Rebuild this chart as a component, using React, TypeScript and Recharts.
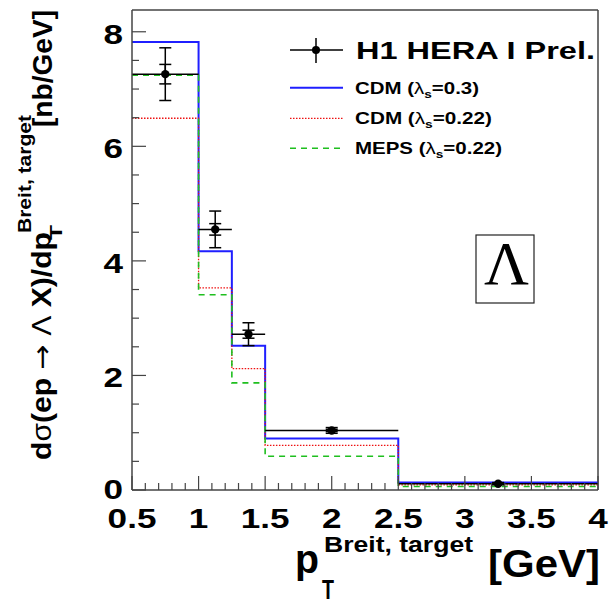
import { ComposedChart, Line, Scatter, ErrorBar, XAxis, YAxis, ReferenceLine } from "recharts"

// bin edges in p_T (GeV)
const binEdges = [0.5, 1, 1.25, 1.5, 2.5, 4]

// model predictions per bin (nb/GeV)
const cdm030 = [7.82, 4.17, 2.52, 0.9, 0.13]
const cdm022 = [6.49, 3.53, 2.12, 0.78, 0.09]
const meps022 = [7.24, 3.41, 1.87, 0.59, 0.06]

// H1 data
const dataX = [0.75, 1.125, 1.375, 2.0, 3.25]
const dataY = [7.26, 4.55, 2.72, 1.04, 0.11]
const dataErrTot = [0.46, 0.32, 0.2, 0.05, 0.02]
const dataErrStat = [0.17, 0.1, 0.07, 0.02, 0.01]

const xMajorTicks = [0.5, 1, 1.5, 2, 2.5, 3, 3.5, 4]
const yMajorTicks = [0, 2, 4, 6, 8]
const yMax = 8.38

const font = "'Liberation Sans', Arial, Helvetica, sans-serif"
const axisColor = "#444"
const blue = "#1f1fff"
const red = "#ee1111"
const green = "#1fbf1f"

const subdivide = (majors: number[], n: number) => {
  const out: number[] = []
  majors.forEach((a, i) => {
    out.push(a)
    const b = majors[i + 1]
    if (b === undefined) return
    for (let j = 1; j < n; j++) out.push(a + ((b - a) * j) / n)
  })
  return out
}

const xTicks = subdivide(xMajorTicks, 5)
const yTicks = subdivide(yMajorTicks, 4)

// histogram rows: one point per left edge, last bin repeated at the right edge
const histRows = binEdges.map((x, i) => {
  const k = Math.min(i, cdm030.length - 1)
  return { x, cdm030: cdm030[k], cdm022: cdm022[k], meps022: meps022[k] }
})

const points = dataX.map((x, i) => ({
  x,
  y: dataY[i],
  ex: (binEdges[i + 1] - binEdges[i]) / 2,
  ey: dataErrTot[i],
  eyStat: dataErrStat[i],
}))

function XTick({ x, y, payload }: any) {
  const v = payload.value
  const major = xMajorTicks.some((m) => Math.abs(m - v) < 1e-6)
  return (
    <g>
      <line x1={x} x2={x} y1={y} y2={y - (major ? 14 : 7)} stroke={axisColor} strokeWidth={1.2} />
      {major && (
        <text
          x={0}
          y={0}
          transform={`translate(${x} ${y + 38}) scale(1.3 1)`}
          textAnchor="middle"
          fontFamily={font}
          fontWeight="bold"
          fontSize={27}
          fill="#000"
        >
          {String(v)}
        </text>
      )}
    </g>
  )
}

function YTick({ x, y, payload }: any) {
  const v = payload.value
  const major = yMajorTicks.some((m) => Math.abs(m - v) < 1e-6)
  // the zero label sits a little higher so it clears the x labels
  const dy = v === 0 ? 9 : 12
  return (
    <g>
      <line x1={x} x2={x + (major ? 14 : 7)} y1={y} y2={y} stroke={axisColor} strokeWidth={1.2} />
      {major && (
        <text
          x={0}
          y={0}
          transform={`translate(${x - 9} ${y + dy}) scale(1.3 1)`}
          textAnchor="end"
          fontFamily={font}
          fontWeight="bold"
          fontSize={27}
          fill="#000"
        >
          {String(v)}
        </text>
      )}
    </g>
  )
}

function Dot(props: any) {
  return <circle cx={props.cx} cy={props.cy} r={4.2} fill="#000" />
}

function Overlay() {
  const legendX0 = 290
  const legendX1 = 343
  return (
    <svg width={616} height={606} style={{ position: "absolute", left: 0, top: 0, pointerEvents: "none" }}>
      {/* legend */}
      <g fontFamily={font} fontWeight="bold" fill="#000">
        <line x1={legendX0} x2={legendX1} y1={50} y2={50} stroke="#000" strokeWidth={1.5} />
        <line x1={316} x2={316} y1={38} y2={63} stroke="#000" strokeWidth={1.5} />
        <circle cx={316} cy={50} r={4} fill="#000" />
        <text x={356} y={59.3} fontSize={24.5} textLength={239} lengthAdjust="spacingAndGlyphs">
          H1 HERA I Prel.
        </text>

        <line x1={legendX0} x2={legendX1} y1={87.7} y2={87.7} stroke={blue} strokeWidth={2} />
        <text x={355} y={94} fontSize={16.5} textLength={124} lengthAdjust="spacingAndGlyphs">
          CDM (<tspan fontWeight="normal">λ</tspan>
          <tspan fontSize={11} dy={4}>s</tspan>
          <tspan dy={-4}>=0.3)</tspan>
        </text>

        <line x1={legendX0} x2={legendX1} y1={118.3} y2={118.3} stroke={red} strokeWidth={1.3} strokeDasharray="1.5 1.5" />
        <text x={355} y={124} fontSize={16.5} textLength={137} lengthAdjust="spacingAndGlyphs">
          CDM (<tspan fontWeight="normal">λ</tspan>
          <tspan fontSize={11} dy={4}>s</tspan>
          <tspan dy={-4}>=0.22)</tspan>
        </text>

        <line x1={legendX0} x2={legendX1} y1={148.3} y2={148.3} stroke={green} strokeWidth={1.6} strokeDasharray="6 5" />
        <text x={355} y={154} fontSize={16.5} textLength={147} lengthAdjust="spacingAndGlyphs">
          MEPS (<tspan fontWeight="normal">λ</tspan>
          <tspan fontSize={11} dy={4}>s</tspan>
          <tspan dy={-4}>=0.22)</tspan>
        </text>
      </g>

      {/* particle label */}
      <rect x={476} y={235} width={58} height={68} fill="#fff" stroke="#222" strokeWidth={1.2} />
      <text x={506.5} y={284} textAnchor="middle" fontFamily="'Liberation Serif', 'Times New Roman', serif" fontSize={62} fill="#000">
        Λ
      </text>

      {/* x title */}
      <g fontFamily={font} fontWeight="bold" fill="#000">
        <text x={295} y={573} fontSize={40} textLength={24} lengthAdjust="spacingAndGlyphs">p</text>
        <text x={324} y={551.7} fontSize={22} textLength={149} lengthAdjust="spacingAndGlyphs">Breit, target</text>
        <text x={322} y={599} fontSize={28} textLength={12} lengthAdjust="spacingAndGlyphs">T</text>
        <text x={488} y={576.7} fontSize={38} textLength={112} lengthAdjust="spacingAndGlyphs">[GeV]</text>
      </g>

      {/* y title, reads bottom to top */}
      <g transform="rotate(-90)" fontFamily={font} fontWeight="bold" fill="#000">
        <text x={-460} y={51} fontSize={27} textLength={228} lengthAdjust="spacingAndGlyphs">
          d<tspan fontWeight="normal">σ</tspan>(ep{" "}
          <tspan fontWeight="normal" fontFamily="'DejaVu Sans', sans-serif">→</tspan>{" "}
          <tspan fontWeight="normal">Λ</tspan> X)/dp
        </text>
        <text x={-233} y={31} fontSize={19} textLength={118} lengthAdjust="spacingAndGlyphs">Breit, target</text>
        <text x={-240} y={62} fontSize={16} textLength={15} lengthAdjust="spacingAndGlyphs">T</text>
        <text x={-127} y={52} fontSize={28} textLength={117} lengthAdjust="spacingAndGlyphs">[nb/GeV]</text>
      </g>
    </svg>
  )
}

export default function App() {
  return (
    <div style={{ position: "absolute", left: 0, top: 0, width: 616, height: 606, background: "#fff" }}>
      <ComposedChart
        width={616}
        height={606}
        data={histRows}
        margin={{ top: 10, right: 18, bottom: 76, left: 92 }}
      >
        <XAxis
          dataKey="x"
          type="number"
          domain={[0.5, 4]}
          ticks={xTicks}
          interval={0}
          allowDataOverflow
          height={40}
          tickSize={0}
          tickMargin={0}
          tickLine={false}
          tick={<XTick />}
          axisLine={{ stroke: axisColor, strokeWidth: 1.5 }}
        />
        <YAxis
          type="number"
          domain={[0, yMax]}
          ticks={yTicks}
          interval={0}
          allowDataOverflow
          width={40}
          tickSize={0}
          tickMargin={0}
          tickLine={false}
          tick={<YTick />}
          axisLine={{ stroke: axisColor, strokeWidth: 1.5 }}
        />
        <ReferenceLine y={yMax} stroke={axisColor} strokeWidth={1.5} />
        <ReferenceLine x={4} stroke={axisColor} strokeWidth={1.5} />

        <Line type="stepAfter" dataKey="cdm030" stroke={blue} strokeWidth={2} dot={false} activeDot={false} isAnimationActive={false} />
        <Line type="stepAfter" dataKey="cdm022" stroke={red} strokeWidth={1.3} strokeDasharray="1.5 1.5" dot={false} activeDot={false} isAnimationActive={false} />
        <Line type="stepAfter" dataKey="meps022" stroke={green} strokeWidth={1.6} strokeDasharray="6 5" dot={false} activeDot={false} isAnimationActive={false} />

        <Scatter data={points} dataKey="y" shape={<Dot />} isAnimationActive={false}>
          <ErrorBar dataKey="ex" direction="x" width={0} stroke="#000" strokeWidth={1.5} isAnimationActive={false} />
          <ErrorBar dataKey="ey" direction="y" width={6} stroke="#000" strokeWidth={1.5} isAnimationActive={false} />
          <ErrorBar dataKey="eyStat" direction="y" width={6} stroke="#000" strokeWidth={1.5} isAnimationActive={false} />
        </Scatter>
      </ComposedChart>
      <Overlay />
    </div>
  )
}
